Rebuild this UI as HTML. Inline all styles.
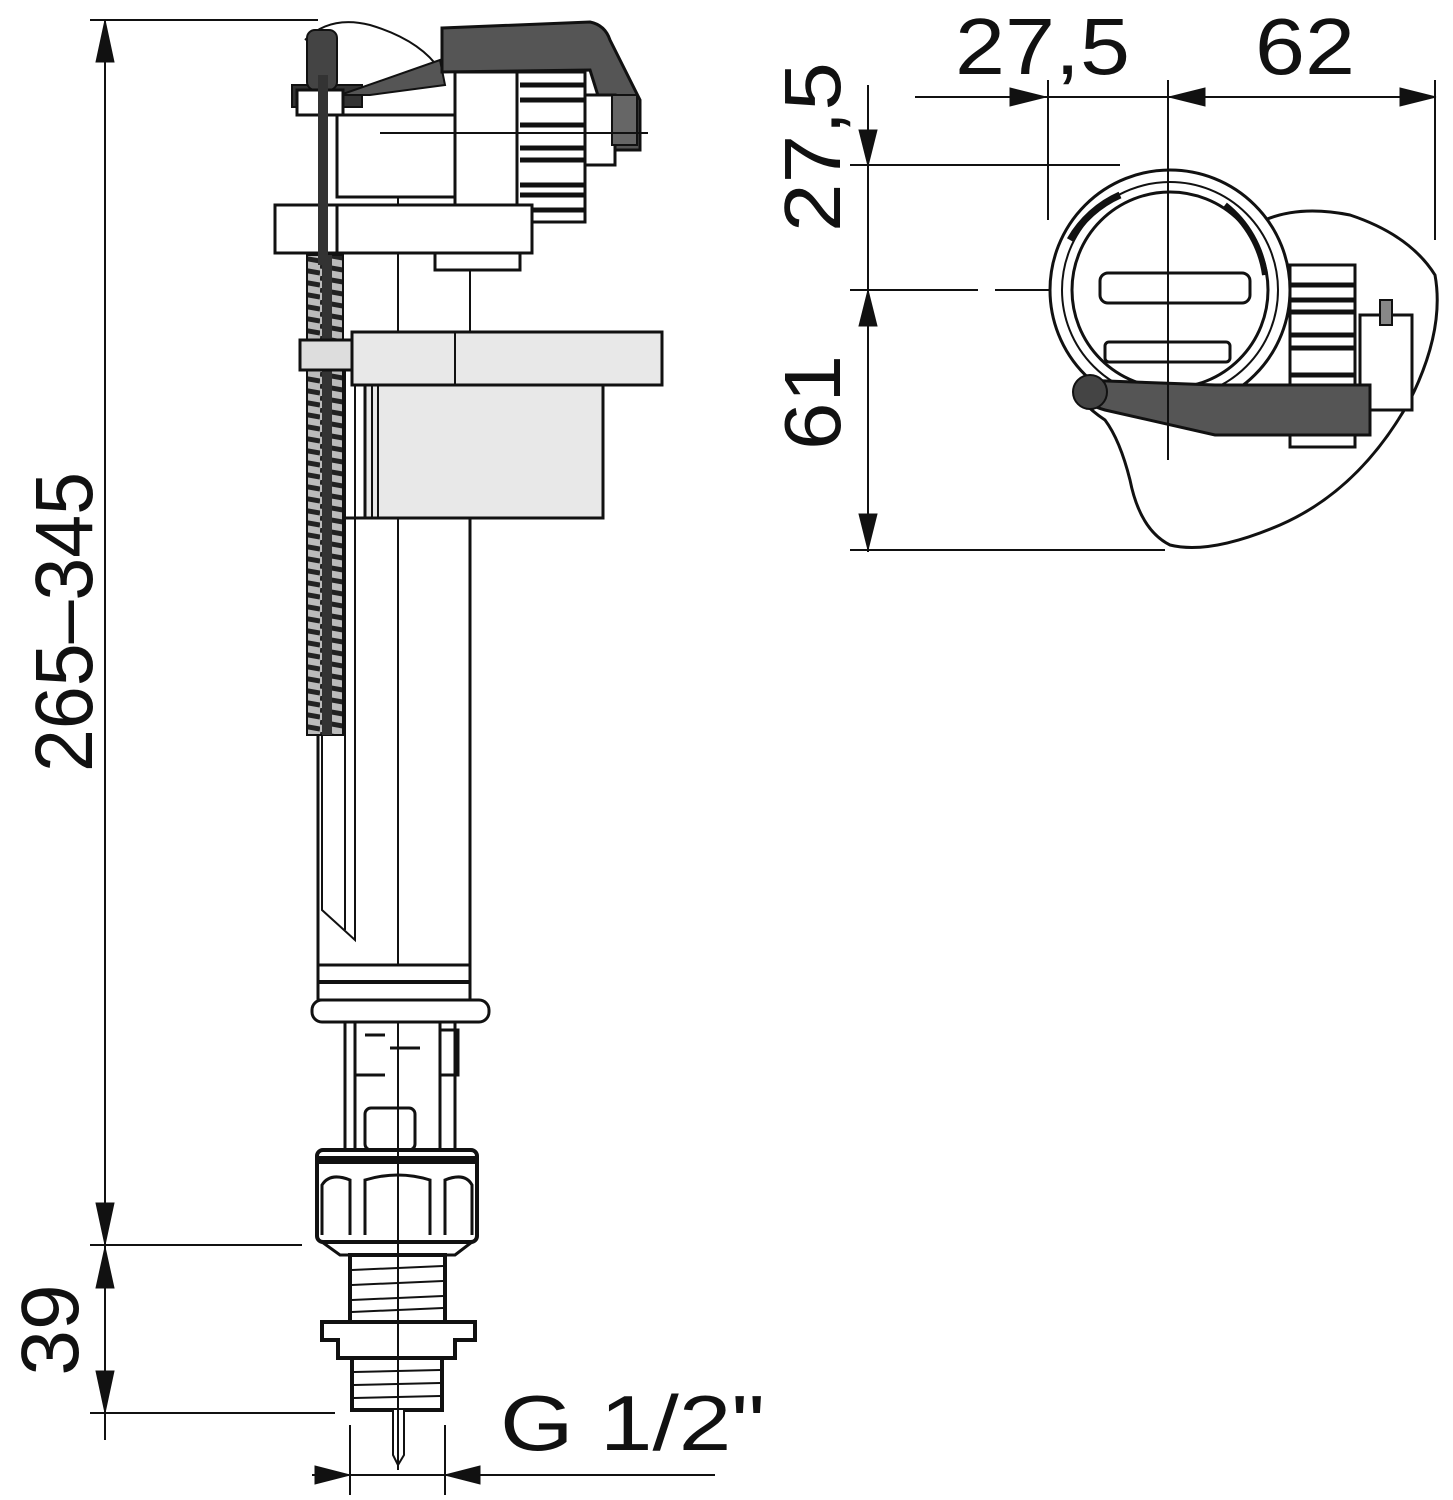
<!DOCTYPE html>
<html><head><meta charset="utf-8"><style>
html,body{margin:0;padding:0;background:#fff}
svg{display:block}
text{font-family:"Liberation Sans","DejaVu Sans",sans-serif;fill:#111}
</style></head><body>
<svg width="1453" height="1500" viewBox="0 0 1453 1500" xmlns="http://www.w3.org/2000/svg">
<defs>
<pattern id="sp" width="40" height="12" patternUnits="userSpaceOnUse">
<rect width="40" height="12" fill="#bbb"/>
<path d="M0,2 L40,9" stroke="#222" stroke-width="5"/>
</pattern>
</defs>
<g stroke="#111" fill="none">
<line x1="90" y1="20" x2="318" y2="20" stroke-width="2"/>
<line x1="90" y1="1245" x2="302" y2="1245" stroke-width="2"/>
<line x1="90" y1="1413" x2="335" y2="1413" stroke-width="2"/>
<line x1="105" y1="20" x2="105" y2="1440" stroke-width="2"/>
<path d="M96,62 L105,20 L114,62 z" fill="#111"/>
<path d="M96,1203 L105,1245 L114,1203 z" fill="#111"/>
<path d="M96,1288 L105,1247 L114,1288 z" fill="#111"/>
<path d="M96,1371 L105,1413 L114,1371 z" fill="#111"/>
<line x1="350" y1="1425" x2="350" y2="1495" stroke-width="2"/>
<line x1="445" y1="1425" x2="445" y2="1495" stroke-width="2"/>
<line x1="312" y1="1475" x2="715" y2="1475" stroke-width="2"/>
<path d="M315,1466 L350,1475 L315,1484 z" fill="#111"/>
<path d="M480,1466 L445,1475 L480,1484 z" fill="#111"/>

<rect x="318" y="518" width="152" height="448" stroke-width="3" fill="#fff"/>
<line x1="398" y1="130" x2="398" y2="1470" stroke-width="2"/>
<path d="M322,360 L322,910 L355,940 L355,360" stroke-width="2"/>
<line x1="345" y1="360" x2="345" y2="930" stroke-width="2"/>
<rect x="352" y="332" width="310" height="53" fill="#e8e8e8" stroke-width="3"/>
<line x1="455" y1="332" x2="455" y2="385" stroke-width="2"/>
<rect x="365" y="385" width="238" height="133" fill="#e8e8e8" stroke-width="3"/>
<line x1="372" y1="385" x2="372" y2="518" stroke-width="2"/>
<line x1="378" y1="385" x2="378" y2="518" stroke-width="2"/>
<line x1="470" y1="265" x2="470" y2="332" stroke-width="2"/>
<rect x="307" y="255" width="36" height="480" fill="url(#sp)" stroke-width="2"/>
<rect x="322" y="255" width="10" height="480" fill="#333" stroke="none"/>
<rect x="300" y="340" width="52" height="30" fill="#ddd" stroke-width="3"/>
<path d="M305,40 Q330,15 370,25 Q420,40 440,70" stroke-width="2"/>
<rect x="292" y="85" width="70" height="22" fill="#333" stroke-width="2"/>
<rect x="307" y="30" width="30" height="60" rx="8" fill="#444" stroke-width="2"/>
<path d="M340,95 L440,60 L445,85 L370,95 z" fill="#555" stroke-width="2"/>
<path d="M442,28 L590,22 Q605,25 610,40 L640,100 L640,150 L615,150 L590,70 L442,72 z" fill="#555" stroke-width="3"/>
<rect x="297" y="90" width="46" height="25" stroke-width="3" fill="#fff"/>
<rect x="337" y="115" width="185" height="82" stroke-width="3" fill="#fff"/>
<rect x="455" y="72" width="70" height="150" stroke-width="3" fill="#fff"/>
<rect x="517" y="72" width="68" height="150" stroke-width="3" fill="#fff"/>
<g stroke-width="5">
<line x1="520" y1="85" x2="585" y2="85"/><line x1="520" y1="100" x2="585" y2="100"/>
<line x1="520" y1="125" x2="585" y2="125"/><line x1="520" y1="148" x2="585" y2="148"/>
<line x1="520" y1="160" x2="585" y2="160"/><line x1="520" y1="185" x2="585" y2="185"/>
<line x1="520" y1="195" x2="585" y2="195"/><line x1="520" y1="210" x2="585" y2="210"/>
</g>
<rect x="585" y="95" width="30" height="70" stroke-width="3" fill="#fff"/>
<rect x="612" y="95" width="25" height="50" fill="#666" stroke-width="2"/>
<line x1="380" y1="133" x2="648" y2="133" stroke-width="2"/>
<rect x="275" y="205" width="70" height="48" stroke-width="3" fill="#fff"/>
<rect x="337" y="205" width="195" height="48" stroke-width="3" fill="#fff"/>
<rect x="435" y="253" width="85" height="17" stroke-width="3" fill="#fff"/>
<rect x="318" y="75" width="10" height="190" fill="#333" stroke="none"/>
<rect x="318" y="965" width="152" height="35" stroke-width="3" fill="#fff"/>
<line x1="318" y1="982" x2="470" y2="982" stroke-width="4"/>
<rect x="312" y="1000" width="177" height="22" rx="10" stroke-width="3" fill="#fff"/>
<path d="M345,1022 L345,1150 M355,1022 L355,1150 M455,1022 L455,1150 M440,1022 L440,1150" stroke-width="3"/>
<rect x="365" y="1108" width="50" height="42" rx="6" stroke-width="3"/>
<path d="M365,1035 L385,1035 M355,1075 L385,1075 M390,1048 L420,1048 M440,1030 L458,1030 L458,1075 L440,1075" stroke-width="3"/>
<rect x="317" y="1150" width="160" height="92" rx="6" stroke-width="4" fill="#fff"/>
<line x1="317" y1="1160" x2="477" y2="1160" stroke-width="8"/>
<path d="M322,1235 L322,1185 Q330,1172 350,1180 L350,1235 M365,1235 L365,1180 Q398,1170 430,1180 L430,1235 M445,1235 L445,1180 Q465,1172 472,1185 L472,1235" stroke-width="3"/>
<path d="M322,1242 L340,1255 L455,1255 L472,1242" stroke-width="3"/>
<rect x="350" y="1255" width="95" height="67" stroke-width="4" fill="#fff"/>
<g stroke-width="2"><line x1="352" y1="1270" x2="443" y2="1266"/><line x1="352" y1="1285" x2="443" y2="1281"/><line x1="352" y1="1300" x2="443" y2="1296"/><line x1="352" y1="1312" x2="443" y2="1308"/></g>
<path d="M322,1322 L475,1322 L475,1340 L455,1340 L455,1358 L338,1358 L338,1340 L322,1340 z" stroke-width="4" fill="#fff"/>
<rect x="352" y="1358" width="90" height="52" stroke-width="4" fill="#fff"/>
<g stroke-width="2"><line x1="354" y1="1372" x2="440" y2="1370"/><line x1="354" y1="1385" x2="440" y2="1383"/><line x1="354" y1="1398" x2="440" y2="1396"/></g>
<path d="M393,1410 L393,1455 L398,1465 L404,1455 L404,1410" stroke-width="2" fill="#fff"/>
<line x1="398" y1="1022" x2="398" y2="1470" stroke-width="2"/>

<line x1="915" y1="97" x2="1435" y2="97" stroke-width="2"/>
<path d="M1010,88 L1046,97 L1010,106 z" fill="#111"/>
<path d="M1205,88 L1169,97 L1205,106 z" fill="#111"/>
<path d="M1400,88 L1436,97 L1400,106 z" fill="#111"/>
<line x1="1048" y1="80" x2="1048" y2="220" stroke-width="2"/>
<line x1="1168" y1="80" x2="1168" y2="460" stroke-width="2"/>
<line x1="1435" y1="80" x2="1435" y2="240" stroke-width="2"/>
<line x1="868" y1="85" x2="868" y2="552" stroke-width="2"/>
<path d="M859,130 L868,166 L877,130 z" fill="#111"/>
<path d="M859,326 L868,290 L877,326 z" fill="#111"/>
<path d="M859,514 L868,550 L877,514 z" fill="#111"/>
<line x1="850" y1="165" x2="1120" y2="165" stroke-width="2"/>
<line x1="850" y1="290" x2="978" y2="290" stroke-width="2"/>
<line x1="995" y1="290" x2="1262" y2="290" stroke-width="2"/>
<line x1="850" y1="550" x2="1165" y2="550" stroke-width="2"/>
<path d="M1265,220 Q1300,205 1350,215 Q1410,235 1435,275 Q1445,330 1410,400 Q1360,490 1280,525 Q1210,555 1170,545 Q1140,530 1130,480 Q1120,440 1105,420 Q1075,400 1078,385 L1090,375" stroke-width="3"/>
<circle cx="1170" cy="290" r="120" stroke-width="3" fill="#fff"/>
<circle cx="1170" cy="290" r="108" stroke-width="2"/>
<circle cx="1170" cy="290" r="98" stroke-width="3"/>
<path d="M1070,240 A108,108 0 0 1 1120,195" stroke-width="7"/>
<path d="M1225,205 A108,108 0 0 1 1265,275" stroke-width="6"/>
<rect x="1100" y="273" width="150" height="30" rx="8" stroke-width="3" fill="#fff"/>
<rect x="1105" y="342" width="125" height="20" rx="4" stroke-width="3" fill="#fff"/>
<rect x="1290" y="265" width="65" height="182" stroke-width="3" fill="#fff"/>
<g stroke-width="5"><line x1="1290" y1="285" x2="1355" y2="285"/><line x1="1290" y1="300" x2="1355" y2="300"/><line x1="1290" y1="312" x2="1355" y2="312"/><line x1="1290" y1="335" x2="1355" y2="335"/><line x1="1290" y1="348" x2="1355" y2="348"/><line x1="1290" y1="375" x2="1355" y2="375"/></g>
<rect x="1360" y="315" width="52" height="95" stroke-width="3" fill="#fff"/>
<rect x="1380" y="300" width="12" height="25" stroke-width="2" fill="#888"/>
<path d="M1080,380 L1215,385 L1370,385 L1370,435 L1215,435 L1105,410 Q1070,400 1080,380 z" fill="#555" stroke-width="3"/>
<circle cx="1090" cy="392" r="17" fill="#444" stroke-width="2"/>
<line x1="1168" y1="160" x2="1168" y2="460" stroke-width="2"/>
</g>
<text transform="translate(92,622) rotate(-90)" font-size="82" text-anchor="middle" textLength="300" lengthAdjust="spacingAndGlyphs">265–345</text>
<text transform="translate(78,1330) rotate(-90)" font-size="82" text-anchor="middle">39</text>
<text x="500" y="1450" font-size="78" textLength="265" lengthAdjust="spacingAndGlyphs">G 1/2"</text>
<text x="955" y="74" font-size="80" textLength="175" lengthAdjust="spacingAndGlyphs">27,5</text>
<text x="1255" y="74" font-size="80" textLength="100" lengthAdjust="spacingAndGlyphs">62</text>
<text transform="translate(840,232) rotate(-90)" font-size="80" textLength="170" lengthAdjust="spacingAndGlyphs">27,5</text>
<text transform="translate(840,450) rotate(-90)" font-size="80" textLength="95" lengthAdjust="spacingAndGlyphs">61</text>
</svg>
</body></html>
